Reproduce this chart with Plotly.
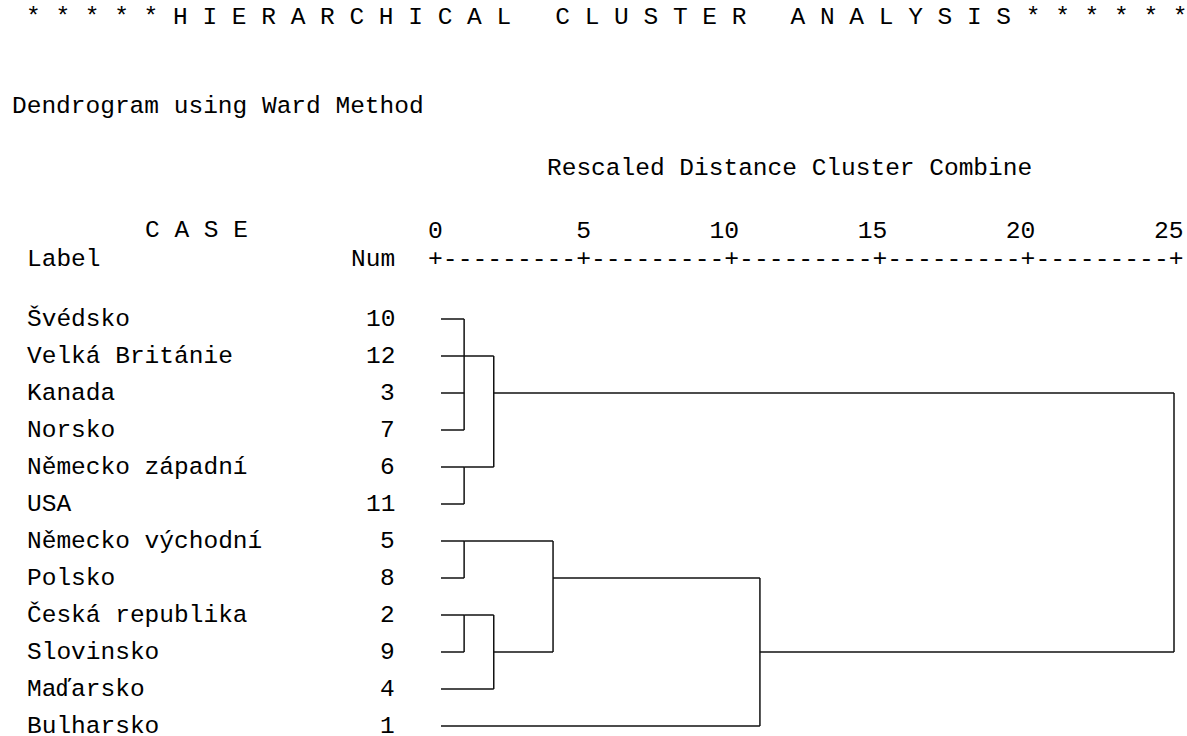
import plotly.graph_objects as go

# Cases in dendrogram order (top to bottom)
case_labels = [
    "Švédsko",
    "Velká Británie",
    "Kanada",
    "Norsko",
    "Německo západní",
    "USA",
    "Německo východní",
    "Polsko",
    "Česká republika",
    "Slovinsko",
    "Maďarsko",
    "Bulharsko",
]
case_nums = [10, 12, 3, 7, 6, 11, 5, 8, 2, 9, 4, 1]

# Agglomeration steps: members (rows 0..11 are cases, 12+ are earlier steps),
# rescaled distance of the join, and the row the joined cluster leaves from
merge_members = [
    [0, 1, 2, 3],
    [4, 5],
    [12, 13],
    [6, 7],
    [8, 9],
    [16, 10],
    [15, 17],
    [18, 11],
    [14, 19],
]
merge_distance = [1.05, 1.05, 2.05, 1.05, 1.05, 2.05, 4.05, 11.03, 25.0]
merge_out_row = [1, 4, 2, 6, 8, 9, 7, 9, None]

scale_ticks = [0, 5, 10, 15, 20, 25]

W, H = 1187, 736
X0_PX, UNIT_PX = 433, (1174 - 433) / 25
ROW0_PX, ROW_PX = 319, 37.0
LEAF_START = 0.27

MONO = "Liberation Mono, Courier New, monospace"
FONT = dict(family=MONO, size=24.5, color="black")
RULER_FONT = dict(family=MONO, size=24.7, color="black")


def nb(s):
    # keep runs of spaces in svg text
    return s.replace(" ", "\u00a0")


def px_x(px):
    return px / W


def px_y(py):
    return 1 - py / H


# Build the SPSS style dendrogram segments
n = len(case_labels)
node_x = {i: LEAF_START for i in range(n)}
node_row = {i: i for i in range(n)}
xs, ys = [], []
for k, (members, dist, out_row) in enumerate(zip(merge_members, merge_distance, merge_out_row)):
    rows = []
    for m in members:
        xs += [node_x[m], dist, None]
        ys += [node_row[m], node_row[m], None]
        rows.append(node_row[m])
    xs += [dist, dist, None]
    ys += [min(rows), max(rows), None]
    node_x[n + k] = dist
    node_row[n + k] = out_row

fig = go.Figure()
fig.add_trace(
    go.Scatter(
        x=xs,
        y=ys,
        mode="lines",
        line=dict(color="#111111", width=1.5),
        hoverinfo="skip",
        showlegend=False,
    )
)

annotations = []


def add_text(text, px, py, anchor="left", font=FONT, row=None):
    annotations.append(
        dict(
            text=nb(text),
            x=px_x(px),
            xref="paper",
            y=row if row is not None else px_y(py),
            yref="y" if row is not None else "paper",
            xanchor=anchor,
            yanchor="middle",
            showarrow=False,
            font=font,
        )
    )


add_text("* * * * * H I E R A R C H I C A L   C L U S T E R   A N A L Y S I S * * * * * *", 24, 17)
add_text("Dendrogram using Ward Method", 10, 106)
add_text("Rescaled Distance Cluster Combine", 545, 168)
add_text("C A S E", 143, 231)
add_text("Label", 25, 259)
add_text("Num", 397, 259, anchor="right")

# Scale numbers and ruler, two characters per unit
cols = 2 * scale_ticks[-1] + 1
num_line = [" "] * cols
ruler = ["-"] * cols
for t in scale_ticks:
    lab = str(t)
    c = 2 * t
    for j, ch in enumerate(lab):
        num_line[c - len(lab) + 1 + j] = ch
    ruler[c] = "+"
pitch = RULER_FONT["size"] * 0.6
add_text("".join(num_line), X0_PX - pitch / 2, 231, font=RULER_FONT)
add_text("".join(ruler), X0_PX - pitch / 2, 259, font=RULER_FONT)

for i, (lab, num) in enumerate(zip(case_labels, case_nums)):
    add_text(lab, 25, 0, row=i)
    add_text(str(num), 397, 0, anchor="right", row=i)

fig.update_layout(
    width=W,
    height=H,
    margin=dict(l=0, r=0, t=0, b=0),
    paper_bgcolor="white",
    plot_bgcolor="white",
    annotations=annotations,
    xaxis=dict(
        visible=False,
        range=[-X0_PX / UNIT_PX, (W - X0_PX) / UNIT_PX],
        fixedrange=True,
    ),
    yaxis=dict(
        visible=False,
        range=[(H - ROW0_PX) / ROW_PX, -ROW0_PX / ROW_PX],
        fixedrange=True,
    ),
)

# drop the default page margin so the figure sits at the window corner
fig.write_html(
    "out.html",
    config={"displayModeBar": False},
    post_script="document.body.style.margin='0';",
)
